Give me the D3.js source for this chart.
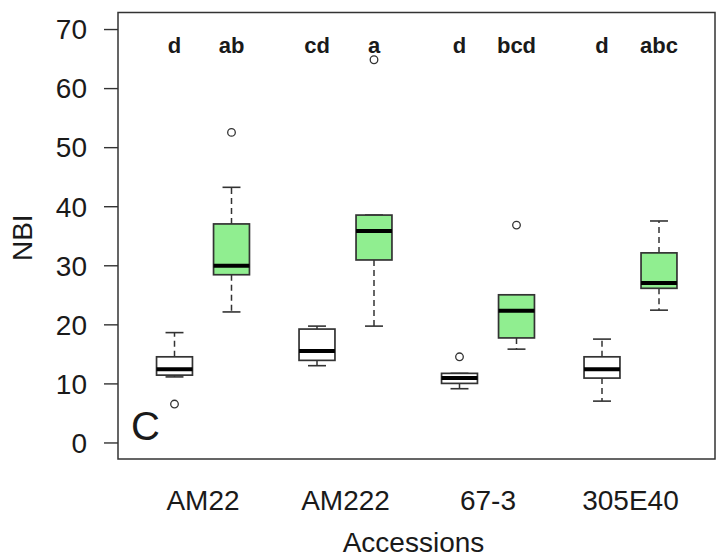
<!DOCTYPE html>
<html>
<head>
<meta charset="utf-8">
<script src="https://cdn.jsdelivr.net/npm/d3@7"></script>
<style>
  html, body { margin: 0; padding: 0; background: #fff; }
  svg text { font-family: "Liberation Sans", Arial, sans-serif; fill: #1a1a1a; }
</style>
</head>
<body>
<svg id="chart" width="717" height="560"></svg>
<script>
// Accessions and treatments (white = control, green = treated)
const accessions = ["AM22", "AM222", "67-3", "305E40"];
const treatments = ["control", "treated"];

// Five-number summaries per box: [lowerWhisker, q1, median, q3, upperWhisker]
const controlStats = [
  [11.1, 11.4, 12.4, 14.5, 18.6],
  [13.0, 13.9, 15.5, 19.2, 19.7],
  [9.1, 10.0, 10.9, 11.7, 11.7],
  [7.0, 10.9, 12.4, 14.5, 17.5]
];
const treatedStats = [
  [22.1, 28.4, 29.9, 37.0, 43.2],
  [19.7, 30.9, 35.8, 38.5, 38.5],
  [15.8, 17.7, 22.3, 25.0, 25.0],
  [22.4, 26.1, 27.0, 32.1, 37.5]
];
// Outlying observations per box
const controlOutliers = [[6.5], [], [14.5], []];
const treatedOutliers = [[52.5], [64.8], [36.8], []];

// Significance letters
const controlLetters = ["d", "cd", "d", "d"];
const treatedLetters = ["ab", "a", "bcd", "abc"];

const yTicks = [0, 10, 20, 30, 40, 50, 60, 70];
const panelLabel = "C";
const xTitle = "Accessions";
const yTitle = "NBI";

const svg = d3.select("#chart");
const plot = { left: 118, right: 715, top: 12.5, bottom: 459 };
const font = "Liberation Sans, Arial, sans-serif";

// Box positions: two boxes per accession, 1.5 units between groups
const boxes = [];
accessions.forEach((acc, i) => {
  [controlStats, treatedStats].forEach((stats, t) => {
    boxes.push({
      acc, t,
      pos: 1 + i * 2.5 + t,
      stats: stats[i],
      outliers: (t === 0 ? controlOutliers : treatedOutliers)[i],
      letter: (t === 0 ? controlLetters : treatedLetters)[i]
    });
  });
});

const x = d3.scaleLinear().domain([1, 9.5]).range([174.5, 659]);
const y = d3.scaleLinear().domain([-2.8, 72.8]).range([plot.bottom, plot.top]);
const boxW = x(1.63) - x(1);
const capW = boxW / 2;

// y axis
const yAxis = d3.axisLeft(y).tickValues(yTicks).tickSize(14).tickPadding(17);
const gy = svg.append("g").attr("transform", `translate(${plot.left},0)`).call(yAxis);
gy.select(".domain").remove();
gy.selectAll(".tick line").attr("stroke", "#333").attr("stroke-width", 1.4);
gy.selectAll(".tick text").attr("font-size", 28).attr("fill", "#1a1a1a")
  .attr("font-family", font).attr("dy", "0.35em");

// plot frame
svg.append("rect")
  .attr("x", plot.left).attr("y", plot.top)
  .attr("width", plot.right - plot.left).attr("height", plot.bottom - plot.top)
  .attr("fill", "none").attr("stroke", "#333").attr("stroke-width", 1.5);

// category labels
accessions.forEach((acc, i) => {
  const cx = (x(1 + i * 2.5) + x(2 + i * 2.5)) / 2;
  svg.append("text").attr("x", cx).attr("y", 510)
    .attr("text-anchor", "middle").attr("font-size", 28).text(acc);
});

// axis titles
svg.append("text").attr("x", (plot.left + plot.right) / 2 - 3).attr("y", 552)
  .attr("text-anchor", "middle").attr("font-size", 28).text(xTitle);
svg.append("text")
  .attr("transform", `translate(32,${(plot.top + plot.bottom) / 2 + 2}) rotate(-90)`)
  .attr("text-anchor", "middle").attr("font-size", 28).text(yTitle);

// panel label
svg.append("text").attr("x", 131).attr("y", 440).attr("font-size", 40).text(panelLabel);

// boxes
const g = svg.append("g");
boxes.forEach(b => {
  const [lo, q1, med, q3, hi] = b.stats;
  const cx = x(b.pos);
  // whiskers
  g.append("line").attr("x1", cx).attr("x2", cx).attr("y1", y(q3)).attr("y2", y(hi))
    .attr("stroke", "#333").attr("stroke-width", 1.5).attr("stroke-dasharray", "6,4");
  g.append("line").attr("x1", cx).attr("x2", cx).attr("y1", y(q1)).attr("y2", y(lo))
    .attr("stroke", "#333").attr("stroke-width", 1.5).attr("stroke-dasharray", "6,4");
  // caps
  [lo, hi].forEach(v => {
    g.append("line").attr("x1", cx - capW / 2).attr("x2", cx + capW / 2)
      .attr("y1", y(v)).attr("y2", y(v)).attr("stroke", "#333").attr("stroke-width", 1.6);
  });
  // box
  g.append("rect").attr("x", cx - boxW / 2).attr("y", y(q3))
    .attr("width", boxW).attr("height", y(q1) - y(q3))
    .attr("fill", b.t === 0 ? "#ffffff" : "#90EE90")
    .attr("stroke", "#333").attr("stroke-width", 1.7);
  // median
  g.append("line").attr("x1", cx - boxW / 2).attr("x2", cx + boxW / 2)
    .attr("y1", y(med)).attr("y2", y(med)).attr("stroke", "#000").attr("stroke-width", 4);
  // outliers
  b.outliers.forEach(v => {
    g.append("circle").attr("cx", cx).attr("cy", y(v)).attr("r", 3.8)
      .attr("fill", "none").attr("stroke", "#333").attr("stroke-width", 1.3);
  });
  // letters
  svg.append("text").attr("x", cx).attr("y", 53).attr("text-anchor", "middle")
    .attr("font-size", 22).attr("font-weight", "bold").attr("fill", "#2a2a2a").text(b.letter);
});
</script>
</body>
</html>
